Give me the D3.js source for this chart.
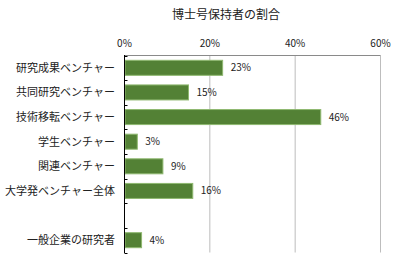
<!DOCTYPE html>
<html>
<head>
<meta charset="utf-8">
<script src="https://cdn.jsdelivr.net/npm/d3@7"></script>
<style>
  body { margin: 0; background: #fff; }
  text { font-family: "Noto Sans CJK JP", "DejaVu Sans", sans-serif; fill: #222; }
</style>
</head>
<body>
<div id="chart"></div>
<script>
// 博士号保持者の割合 (%)
var categories = ["研究成果ベンチャー", "共同研究ベンチャー", "技術移転ベンチャー", "学生ベンチャー",
                  "関連ベンチャー", "大学発ベンチャー全体", "", "一般企業の研究者"];
var values = [23, 15, 46, 3, 9, 16, null, 4];
var xTicks = [0, 20, 40, 60];
var titleText = "博士号保持者の割合";

var width = 402, height = 280;
var svg = d3.select("#chart").append("svg").attr("width", width).attr("height", height);

var x = d3.scaleLinear().domain([0, 60]).range([124.5, 380.5]);
var y = d3.scaleBand().domain(d3.range(categories.length)).range([55.5, 252.5])
    .paddingInner(0.39).paddingOuter(0.195);

// title
svg.append("text").attr("x", 226).attr("y", 19).attr("text-anchor", "middle")
    .style("font-size", "12px").text(titleText);

// gridlines
svg.selectAll(".grid").data(xTicks.slice(1)).enter().append("line")
    .attr("x1", function (d) { return x(d); }).attr("x2", function (d) { return x(d); })
    .attr("y1", 55.5).attr("y2", 252.5)
    .attr("stroke", "#bdbdbd").attr("stroke-width", 1);
// top border
svg.append("line").attr("x1", x(0)).attr("x2", x(60)).attr("y1", 55.5).attr("y2", 55.5)
    .attr("stroke", "#8a8a8a").attr("stroke-width", 1);

// tick labels on top
svg.selectAll(".xlab").data(xTicks).enter().append("text")
    .attr("x", function (d) { return x(d); }).attr("y", 47)
    .attr("text-anchor", "middle").style("font-size", "10px")
    .text(function (d) { return d + "%"; });

// bars
var rows = categories.map(function (c, i) { return {name: c, value: values[i], i: i}; });
svg.selectAll(".bar").data(rows.filter(function (d) { return d.value !== null; })).enter().append("rect")
    .attr("x", x(0) + 0.5)
    .attr("y", function (d) { return y(d.i); })
    .attr("width", function (d) { return x(d.value) - x(0) - 0.5; })
    .attr("height", y.bandwidth())
    .attr("fill", "#538135").attr("stroke", "#8fb870").attr("stroke-width", 1);

// value labels
svg.selectAll(".val").data(rows.filter(function (d) { return d.value !== null; })).enter().append("text")
    .attr("x", function (d) { return x(d.value) + 8; })
    .attr("y", function (d) { return y(d.i) + y.bandwidth() / 2; })
    .attr("dy", "0.35em").style("font-size", "10px")
    .text(function (d) { return d.value + "%"; });

// category labels
svg.selectAll(".cat").data(rows).enter().append("text")
    .attr("x", 115)
    .attr("y", function (d) { return y(d.i) + y.bandwidth() / 2; })
    .attr("dy", "0.35em").attr("text-anchor", "end").style("font-size", "11px")
    .text(function (d) { return d.name; });

// left axis with inner ticks at band boundaries
svg.append("line").attr("x1", x(0)).attr("x2", x(0)).attr("y1", 55).attr("y2", 253)
    .attr("stroke", "#000").attr("stroke-width", 1);
var step = y.step();
svg.selectAll(".ytick").data(d3.range(categories.length + 1)).enter().append("line")
    .attr("x1", x(0)).attr("x2", x(0) + 3)
    .attr("y1", function (d) { return Math.round(55.5 + d * step) + 0.5; })
    .attr("y2", function (d) { return Math.round(55.5 + d * step) + 0.5; })
    .attr("stroke", "#000").attr("stroke-width", 1);
</script>
</body>
</html>
